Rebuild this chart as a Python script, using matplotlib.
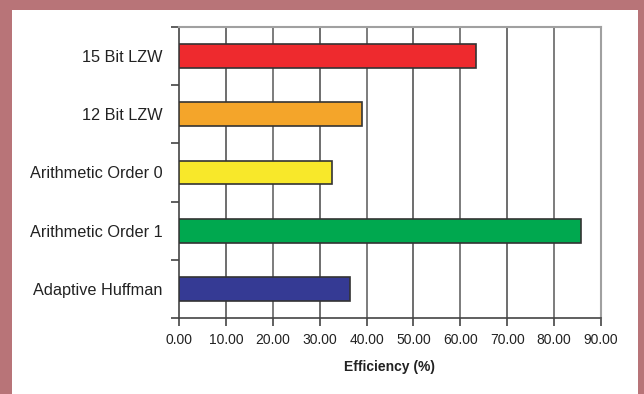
import matplotlib
matplotlib.use("Agg")
import matplotlib.pyplot as plt
from matplotlib.patches import Rectangle

plt.rcParams['font.family'] = ['Liberation Sans', 'DejaVu Sans']

# Compression methods, listed bottom to top
methods = ["Adaptive Huffman", "Arithmetic Order 1", "Arithmetic Order 0",
           "12 Bit LZW", "15 Bit LZW"]
efficiency = [36.5, 85.7, 32.7, 39.1, 63.3]
bar_colors = ["#353a94", "#00a84f", "#f8e82a", "#f4a52a", "#ee2a2e"]
x_ticks = [0, 10, 20, 30, 40, 50, 60, 70, 80, 90]
x_tick_labels = ["%.2f" % v for v in x_ticks]

W, H = 644, 394
fig = plt.figure(figsize=(W / 100, H / 100), dpi=100)
fig.patch.set_facecolor("#b87478")

# White card inside the coloured frame
fig.patches.append(Rectangle((12 / W, 0), (638 - 12) / W, (H - 10) / H,
                             transform=fig.transFigure, facecolor="white",
                             edgecolor="none", zorder=-10))

ax = fig.add_axes([179 / W, 1 - 318 / H, (601 - 179) / W, (318 - 27) / H])
ax.set_zorder(1)
ax.set_facecolor("white")

pos = list(range(len(methods)))
ax.barh(pos, efficiency, height=0.41, color=bar_colors,
        edgecolor="#333333", linewidth=1.2, zorder=3)

ax.set_xlim(0, 90)
ax.set_ylim(-0.5, len(methods) - 0.5)

ax.set_xticks(x_ticks)
ax.set_xticklabels(x_tick_labels, fontsize=10, color="#222222")
ax.tick_params(axis="x", direction="out", length=6, width=1.2,
               color="#444444", pad=5)

# Category labels centred on bars, tick marks on category boundaries
ax.set_yticks(pos)
ax.set_yticklabels(methods, fontsize=11.7, color="#222222")
ax.tick_params(axis="y", which="major", length=0, pad=12)
ax.set_yticks([-0.5] + [p + 0.5 for p in pos], minor=True)
ax.tick_params(axis="y", which="minor", direction="out", length=6,
               width=1.2, color="#444444")

# Vertical gridlines
for i, xv in enumerate(x_ticks[1:-1]):
    ax.axvline(xv, color="#555555" if i % 2 == 0 else "#666666",
               linewidth=1.2, zorder=1)

for side in ("left", "bottom"):
    ax.spines[side].set_color("#444444")
    ax.spines[side].set_linewidth(1.2)
for side in ("top", "right"):
    ax.spines[side].set_color("#a0a0a0")
    ax.spines[side].set_linewidth(1.5)

ax.set_xlabel("Efficiency (%)", fontsize=10, fontweight="bold",
              color="#222222", labelpad=9)

fig.savefig("out.png", dpi=100, facecolor=fig.get_facecolor())
